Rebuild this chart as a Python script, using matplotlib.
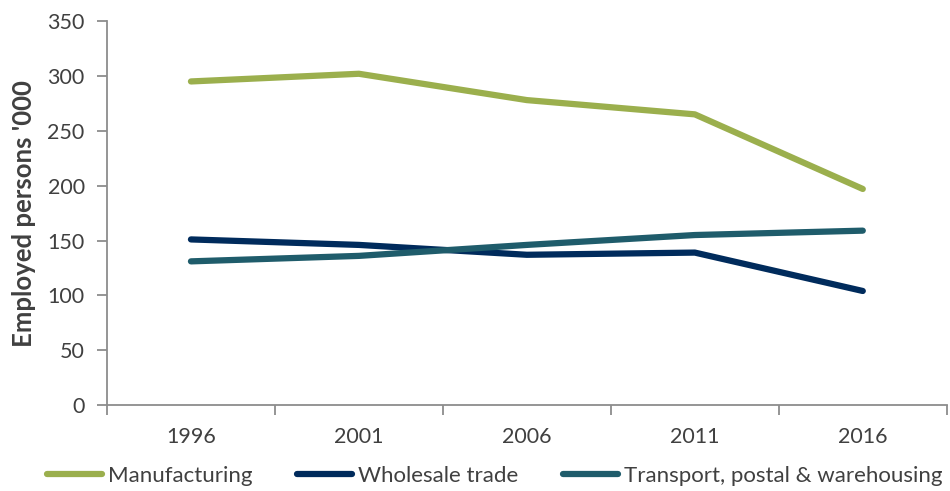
import matplotlib
matplotlib.use("Agg")
import matplotlib.pyplot as plt
from matplotlib.ticker import FixedLocator

plt.rcParams['font.family'] = ['Lato', 'DejaVu Sans']

years = ["1996", "2001", "2006", "2011", "2016"]
manufacturing = [295, 302, 278, 265, 197]
wholesale = [151, 146, 137, 139, 104]
transport = [131, 136, 146, 155, 159]

series = [
    ("Manufacturing", manufacturing, "#9BAF4D"),
    ("Wholesale trade", wholesale, "#002B5C"),
    ("Transport, postal & warehousing", transport, "#1F5C6B"),
]

fig = plt.figure(figsize=(9.5, 4.91), dpi=100)
ax = fig.add_axes([0.1126, 0.175, 0.884, 0.782])

x = list(range(len(years)))
for name, vals, col in series:
    ax.plot(x, vals, color=col, lw=4.5, solid_capstyle='round', label=name)

axis_col = "#8C8C8C"
ax.set_xlim(-0.5, len(years) - 0.5)
ax.set_ylim(0, 350)
ax.set_yticks(range(0, 351, 50))
ax.set_xticks(x)
ax.set_xticklabels(years)
ax.xaxis.set_minor_locator(FixedLocator([i - 0.5 for i in range(len(years) + 1)]))
ax.tick_params(axis='x', which='major', length=0, pad=16, labelsize=15.5, colors="#404040")
ax.tick_params(axis='x', which='minor', length=7, width=1.3, color=axis_col, direction='out')
ax.tick_params(axis='y', length=7, width=1.3, color=axis_col, labelsize=15.5, labelcolor="#404040", pad=9)

for s in ['top', 'right']:
    ax.spines[s].set_visible(False)
for s in ['left', 'bottom']:
    ax.spines[s].set_color(axis_col)
    ax.spines[s].set_linewidth(1.3)

ax.set_ylabel("Employed persons '000", fontsize=18.5, fontweight='bold', color="#404040", labelpad=8)

fig.legend(loc='center', bbox_to_anchor=(0.521, 0.03), ncol=3, frameon=False,
           fontsize=16, handlelength=2.45, handletextpad=0.3, columnspacing=2.0,
           labelcolor="#404040")

fig.savefig("out.png", dpi=100)
